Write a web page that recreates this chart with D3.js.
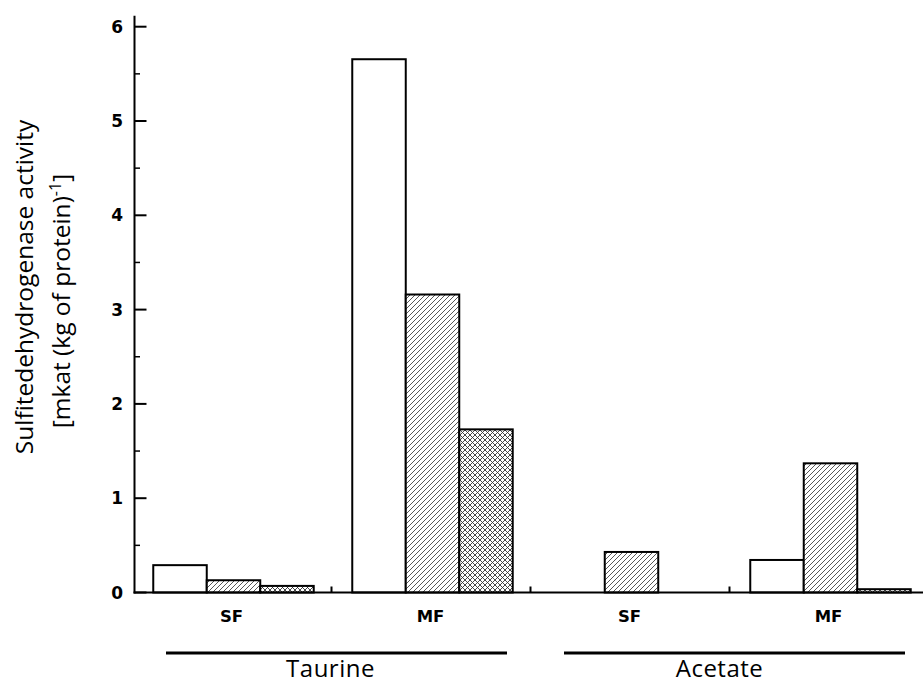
<!DOCTYPE html>
<html><head><meta charset="utf-8">
<script src="https://cdn.jsdelivr.net/npm/d3@7/dist/d3.min.js"></script>
<style>body{margin:0;background:#fff}svg{display:block}</style>
</head><body>
<svg id="c" width="923" height="684"></svg>
<script>
const groups = ["Taurine SF", "Taurine MF", "Acetate SF", "Acetate MF"];
const groupLabels = ["SF", "MF", "SF", "MF"];
const series = ["s1", "s2", "s3"];
const values = {
  s1: [0.29, 5.655, 0, 0.345],
  s2: [0.13, 3.16, 0.43, 1.37],
  s3: [0.07, 1.73, 0, 0.035]
};
const yTicks = [0, 1, 2, 3, 4, 5, 6];
const yMinor = [0.5, 1.5, 2.5, 3.5, 4.5, 5.5];
const substrates = ["Taurine", "Acetate"];

const svg = d3.select("#c");
const defs = svg.append("defs");
const ph = defs.append("pattern").attr("id","hatch").attr("patternUnits","userSpaceOnUse")
  .attr("width",5).attr("height",5);
ph.append("rect").attr("width",5).attr("height",5).attr("fill","#fff");
ph.append("path").attr("d","M0,5L5,0M-1,1L1,-1M4,6L6,4").attr("stroke","#444").attr("stroke-width",0.9);
const pc = defs.append("pattern").attr("id","cross").attr("patternUnits","userSpaceOnUse")
  .attr("width",5).attr("height",5);
pc.append("rect").attr("width",5).attr("height",5).attr("fill","#fff");
pc.append("path").attr("d","M0,5L5,0M-1,1L1,-1M4,6L6,4M0,0L5,5M-1,4L1,6M4,-1L6,1").attr("stroke","#333").attr("stroke-width",0.9);
const fills = {s1:"#fff", s2:"url(#hatch)", s3:"url(#cross)"};

const x0 = 134.5, yBase = 592.5;
const x = d3.scaleBand().domain(groups).range([134, 930]).paddingInner(0).paddingOuter(0);
const xi = d3.scaleBand().domain(series).range([0, x.bandwidth()]).paddingInner(0).paddingOuter(0.36);
const y = d3.scaleLinear().domain([0, 6]).range([yBase, 26.7]);

// bars
const g = svg.append("g");
groups.forEach((grp, gi) => {
  series.forEach(s => {
    const v = values[s][gi];
    if (v <= 0) return;
    g.append("rect")
      .attr("x", x(grp) + xi(s))
      .attr("y", y(v))
      .attr("width", xi.bandwidth())
      .attr("height", y(0) - y(v))
      .attr("fill", fills[s])
      .attr("stroke", "#000").attr("stroke-width", 2);
  });
});

// y axis
const ya = svg.append("g");
ya.append("line").attr("x1",x0).attr("x2",x0).attr("y1",15.7).attr("y2",yBase+1)
  .attr("stroke","#000").attr("stroke-width",2);
ya.selectAll(".maj").data(yTicks).enter().append("line")
  .attr("x1",x0).attr("x2",x0+12).attr("y1",d=>y(d)).attr("y2",d=>y(d))
  .attr("stroke","#000").attr("stroke-width",2);
ya.selectAll(".min").data(yMinor).enter().append("line")
  .attr("x1",x0).attr("x2",x0+5.5).attr("y1",d=>y(d)).attr("y2",d=>y(d))
  .attr("stroke","#000").attr("stroke-width",1.5);
ya.selectAll("text").data(yTicks).enter().append("text")
  .attr("x",123).attr("y",d=>y(d)).attr("dy","0.36em").attr("text-anchor","end")
  .attr("font-family","DejaVu Sans").attr("font-weight","bold").attr("font-size",17)
  .text(d=>d);

// x axis
svg.append("line").attr("x1",x0-1).attr("x2",923).attr("y1",yBase).attr("y2",yBase)
  .attr("stroke","#000").attr("stroke-width",2);
svg.selectAll(".sep").data(groups.slice(1)).enter().append("line")
  .attr("x1",d=>x(d)-1.5).attr("x2",d=>x(d)-1.5).attr("y1",yBase).attr("y2",yBase-6)
  .attr("stroke","#000").attr("stroke-width",2);
svg.selectAll(".gl").data(groups).enter().append("text")
  .attr("x",d=>x(d)+x.bandwidth()/2 - 2).attr("y",622)
  .attr("text-anchor","middle")
  .attr("font-family","DejaVu Sans").attr("font-weight","bold").attr("font-size",16.5)
  .text((d,i)=>groupLabels[i]);

// substrate brackets
const spans = [[groups[0], groups[1]], [groups[2], groups[3]]];
spans.forEach((sp, i) => {
  const a = x(sp[0]), b = x(sp[1]) + x.bandwidth();
  svg.append("line").attr("x1", a + 32).attr("x2", b - 25).attr("y1", 653).attr("y2", 653)
    .attr("stroke","#000").attr("stroke-width",3);
  svg.append("text").attr("x", (a+b)/2 - (i===0 ? 2.5 : 11.5)).attr("y", 677)
    .attr("text-anchor","middle").attr("font-family","Open Sans").attr("font-size",24)
    .attr("letter-spacing",0.5)
    .text(substrates[i]);
});

// y title
const t1 = svg.append("text").attr("transform","translate(33,287) rotate(-90)")
  .attr("text-anchor","middle").attr("font-family","Open Sans").attr("font-size",24.5)
  .text("Sulfitedehydrogenase activity");
const t2 = svg.append("text").attr("transform","translate(70,301) rotate(-90)")
  .attr("text-anchor","middle").attr("font-family","Open Sans").attr("font-size",24.5);
t2.append("tspan").text("[mkat (kg of protein)");
t2.append("tspan").attr("dy",-9).attr("font-size",16).text("-1");
t2.append("tspan").attr("dy",9).text("]");
</script>
</body></html>
